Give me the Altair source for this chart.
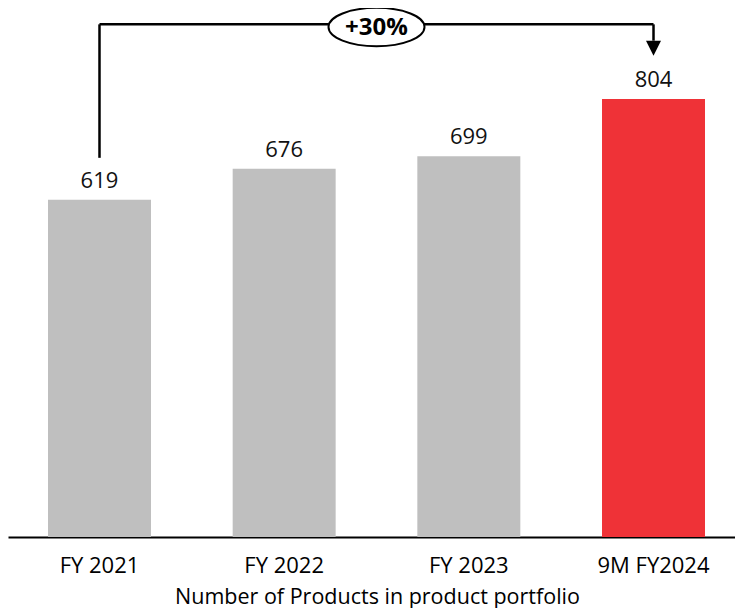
import altair as alt
import pandas as pd

# ---- data ----
categories = ["FY 2021", "FY 2022", "FY 2023", "9M FY2024"]
values = [619, 676, 699, 804]
bar_colors = ["#BFBFBF", "#BFBFBF", "#BFBFBF", "#EF3237"]
growth_label = "+30%"
x_title = "Number of Products in product portfolio"

# bracket annotation levels (in data units)
bracket_from = ["FY 2021"]
bracket_to = ["9M FY2024"]
bracket_level = [941]
bracket_start = [696]
arrow_stem_end = [911]
arrow_head_center = [897]
badge_level = [936]

# ---- styling ----
FONT = "Open Sans"
W, H = 727, 529
X_SPAN = 737          # band range runs slightly past the visible edge, as in the reference
pad_inner = 0.4423
pad_outer = 0.2166
step = X_SPAN / (len(categories) - pad_inner + 2 * pad_outer)
half_gap = step * pad_inner / 2  # from a band's right edge to the gap centre

df = pd.DataFrame({"cat": categories, "value": values, "color": bar_colors})

x_scale = alt.Scale(domain=categories, paddingInner=pad_inner, paddingOuter=pad_outer,
                    range=[0, X_SPAN])
y_scale = alt.Scale(domain=[0, 971], nice=False, zero=True)

x_enc = alt.X(
    "cat:N",
    sort=categories,
    scale=x_scale,
    axis=alt.Axis(
        title=x_title,
        labelAngle=0,
        ticks=False,
        domainColor="black",
        domainWidth=2,
        labelFont=FONT,
        labelFontSize=22,
        labelColor="black",
        labelPadding=35,
        labelBaseline="alphabetic",
        titleFont=FONT,
        titleFontSize=21.5,
        titleFontWeight="normal",
        titleColor="black",
        titleX=369,
        titleY=66,
        titleBaseline="alphabetic",
    ),
)
y_enc = alt.Y("value:Q", scale=y_scale, axis=None)

base = alt.Chart(df)

bars = base.mark_bar().encode(
    x=x_enc, y=y_enc, color=alt.Color("color:N", scale=None)
)

labels = base.mark_text(
    dy=-12, baseline="alphabetic", font=FONT, fontSize=22, color="#111111"
).encode(x=alt.X("cat:N", sort=categories), y=alt.Y("value:Q"), text="value:Q")

br = pd.DataFrame({
    "from": bracket_from,
    "to": bracket_to,
    "level": bracket_level,
    "start": bracket_start,
    "stem_end": arrow_stem_end,
    "head": arrow_head_center,
})
bchart = alt.Chart(br)

left_leg = bchart.mark_rule(color="black", strokeWidth=2.5).encode(
    x=alt.X("from:N"), y=alt.Y("start:Q"), y2="level:Q"
)
top_line = bchart.mark_rule(color="black", strokeWidth=2.5).encode(
    x=alt.X("from:N"), x2="to:N", y=alt.Y("level:Q")
)
stem = bchart.mark_rule(color="black", strokeWidth=2.5).encode(
    x=alt.X("to:N"), y=alt.Y("level:Q"), y2="stem_end:Q"
)
head = bchart.mark_point(
    shape="M -1 -1 L 1 -1 L 0 1 Z", size=225, filled=True, color="black", opacity=1
).encode(x=alt.X("to:N"), y=alt.Y("head:Q"))

# badge centred on the middle gap (between FY 2022 and FY 2023)
mid_df = pd.DataFrame({"cat": [categories[1]], "badge": badge_level, "label": [growth_label]})
mid = alt.Chart(mid_df)
badge = mid.mark_point(
    shape="M -1 0 A 1 0.40 0 1 0 1 0 A 1 0.40 0 1 0 -1 0 Z",
    size=9216,
    filled=True,
    fill="white",
    stroke="black",
    strokeWidth=2,
    opacity=1,
    xOffset=half_gap,
).encode(x=alt.X("cat:N", bandPosition=1), y=alt.Y("badge:Q"))
badge_text = mid.mark_text(
    font=FONT, fontSize=24, fontWeight="bold", color="black", baseline="middle",
    dy=1, xOffset=half_gap,
).encode(x=alt.X("cat:N", bandPosition=1), y=alt.Y("badge:Q"), text="label:N")

chart = (
    alt.layer(bars, labels, left_leg, top_line, stem, head, badge, badge_text)
    .properties(
        width=W,
        height=H,
        autosize=alt.AutoSizeParams(type="none"),
        padding={"left": 0, "top": 0, "right": 0, "bottom": 71},
        background="white",
    )
    .configure_view(stroke=None)
)

chart.save("out.html", embed_options={"renderer": "svg", "actions": False})
